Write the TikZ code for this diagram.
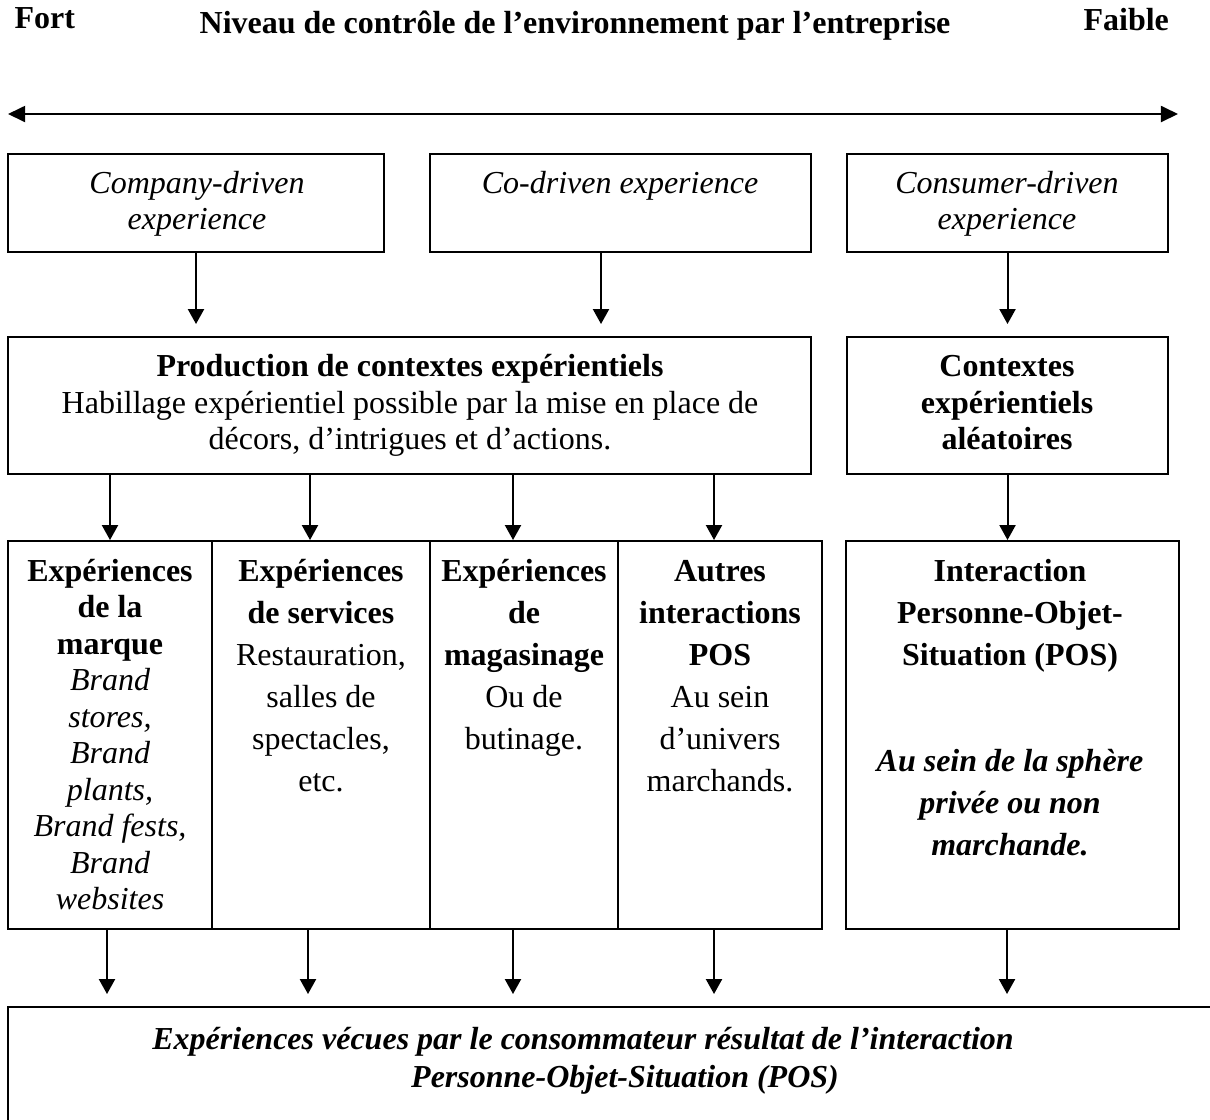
\documentclass[tikz,border=0pt]{standalone}
\usepackage{fontspec}
\setmainfont{Liberation Serif}
\usetikzlibrary{arrows.meta,fit}

\tikzset{
  box/.style={draw, line width=0.75pt, inner sep=0pt},
  arr/.style={line width=0.75pt, -{Triangle[length=5.6pt,width=6pt]}},
  dbl/.style={line width=0.75pt, {Triangle[length=6.4pt,width=6pt]}-{Triangle[length=6.4pt,width=6pt]}},
  txt/.style={anchor=base, inner sep=0pt, font=\fontsize{12}{13.8}\selectfont},
  bf/.style={txt, font=\fontsize{12}{13.8}\selectfont\bfseries},
  it/.style={txt, font=\fontsize{12}{13.8}\selectfont\itshape},
  bfit/.style={txt, font=\fontsize{12}{13.8}\selectfont\bfseries\itshape}
}

\begin{document}
\begin{tikzpicture}[x=0.375pt,y=-0.375pt]
\useasboundingbox (0,0) rectangle (1210,1119);
\clip (0,0) rectangle (1210,1119);

% Header
\node[bf, anchor=base west] (fort) at (14,28) {Fort};
\node[bf] (niveau) at (575,33) {Niveau de contrôle de l’environnement par l’entreprise};
\node[bf, anchor=base west] (faible) at (1083,30) {Faible};
\coordinate (fortEnd) at (8,114);
\coordinate (faibleEnd) at (1178,114);
\draw[dbl] (fortEnd) -- (faibleEnd);

% Boxes
\node[box, fit={(8,154) (384,252)}] (drvA) {};
\node[box, fit={(430,154) (811,252)}] (drvB) {};
\node[box, fit={(847,154) (1168,252)}] (drvC) {};
\node[box, fit={(8,337) (811,474)}] (prod) {};
\node[box, fit={(847,337) (1168,474)}] (alea) {};
\node[box, fit={(8,541) (212,929)}] (colA) {};
\node[box, fit={(212,541) (430,929)}] (colB) {};
\node[box, fit={(430,541) (618,929)}] (colC) {};
\node[box, fit={(618,541) (822,929)}] (colD) {};
\node[box, fit={(846,541) (1179,929)}] (pos) {};
\node[box, fit={(8,1007) (1240,1160)}] (res) {};

% Row 1 texts
\node[it] (drvA1) at (197,193) {Company-driven};
\node[it] (drvA2) at (197,229) {experience};
\node[it] (drvB1) at (620,193) {Co-driven experience};
\node[it] (drvC1) at (1007,193) {Consumer-driven};
\node[it] (drvC2) at (1007,229) {experience};

% Row 2 texts
\node[bf] (prod1) at (410,376) {Production de contextes expérientiels};
\node[txt] (prod2) at (410,413) {Habillage expérientiel possible par la mise en place de};
\node[txt] (prod3) at (410,449) {décors, d’intrigues et d’actions.};
\node[bf] (alea1) at (1007,376) {Contextes};
\node[bf] (alea2) at (1007,413) {expérientiels};
\node[bf] (alea3) at (1007,449) {aléatoires};

% Row 3 texts
\node[bf] (colA1) at (110,581) {Expériences};
\node[bf] (colA2) at (110,617) {de la};
\node[bf] (colA3) at (110,654) {marque};
\node[it] (colA4) at (110,690) {Brand};
\node[it] (colA5) at (110,727) {stores,};
\node[it] (colA6) at (110,763) {Brand};
\node[it] (colA7) at (110,800) {plants,};
\node[it] (colA8) at (110,836) {Brand fests,};
\node[it] (colA9) at (110,873) {Brand};
\node[it] (colA10) at (110,909) {websites};

\node[bf] (colB1) at (321,581) {Expériences};
\node[bf] (colB2) at (321,623) {de services};
\node[txt] (colB3) at (321,665) {Restauration,};
\node[txt] (colB4) at (321,707) {salles de};
\node[txt] (colB5) at (321,749) {spectacles,};
\node[txt] (colB6) at (321,791) {etc.};

\node[bf] (colC1) at (524,581) {Expériences};
\node[bf] (colC2) at (524,623) {de};
\node[bf] (colC3) at (524,665) {magasinage};
\node[txt] (colC4) at (524,707) {Ou de};
\node[txt] (colC5) at (524,749) {butinage.};

\node[bf] (colD1) at (720,581) {Autres};
\node[bf] (colD2) at (720,623) {interactions};
\node[bf] (colD3) at (720,665) {POS};
\node[txt] (colD4) at (720,707) {Au sein};
\node[txt] (colD5) at (720,749) {d’univers};
\node[txt] (colD6) at (720,791) {marchands.};

\node[bf] (pos1) at (1010,581) {Interaction};
\node[bf] (pos2) at (1010,623) {Personne-Objet-};
\node[bf] (pos3) at (1010,665) {Situation (POS)};
\node[bfit] (pos4) at (1010,771) {Au sein de la sphère};
\node[bfit] (pos5) at (1010,813) {privée ou non};
\node[bfit] (pos6) at (1010,855) {marchande.};

% Bottom texts
\node[bfit] (res1) at (583,1049) {Expériences vécues par le consommateur résultat de l’interaction};
\node[bfit] (res2) at (625,1087) {Personne-Objet-Situation (POS)};

% Arrows
\draw[arr, shorten >=4.5pt] (drvA.south) -- (drvA.south |- prod.north);
\draw[arr, shorten >=4.5pt] (drvB.south -| 601,0) -- (prod.north -| 601,0);
\draw[arr, shorten >=4.5pt] (drvC.south) -- (alea.north);

\draw[arr] (prod.south -| colA.north) -- (colA.north);
\draw[arr] (prod.south -| 310,0) -- (colB.north -| 310,0);
\draw[arr] (prod.south -| 513,0) -- (colC.north -| 513,0);
\draw[arr] (prod.south -| 714,0) -- (colD.north -| 714,0);
\draw[arr] (alea.south) -- (alea.south |- pos.north);

\draw[arr, shorten >=4.5pt] (colA.south -| 107,0) -- (res.north -| 107,0);
\draw[arr, shorten >=4.5pt] (colB.south -| 308,0) -- (res.north -| 308,0);
\draw[arr, shorten >=4.5pt] (colC.south -| 513,0) -- (res.north -| 513,0);
\draw[arr, shorten >=4.5pt] (colD.south -| 714,0) -- (res.north -| 714,0);
\draw[arr, shorten >=4.5pt] (pos.south -| 1007,0) -- (res.north -| 1007,0);

\end{tikzpicture}
\end{document}
